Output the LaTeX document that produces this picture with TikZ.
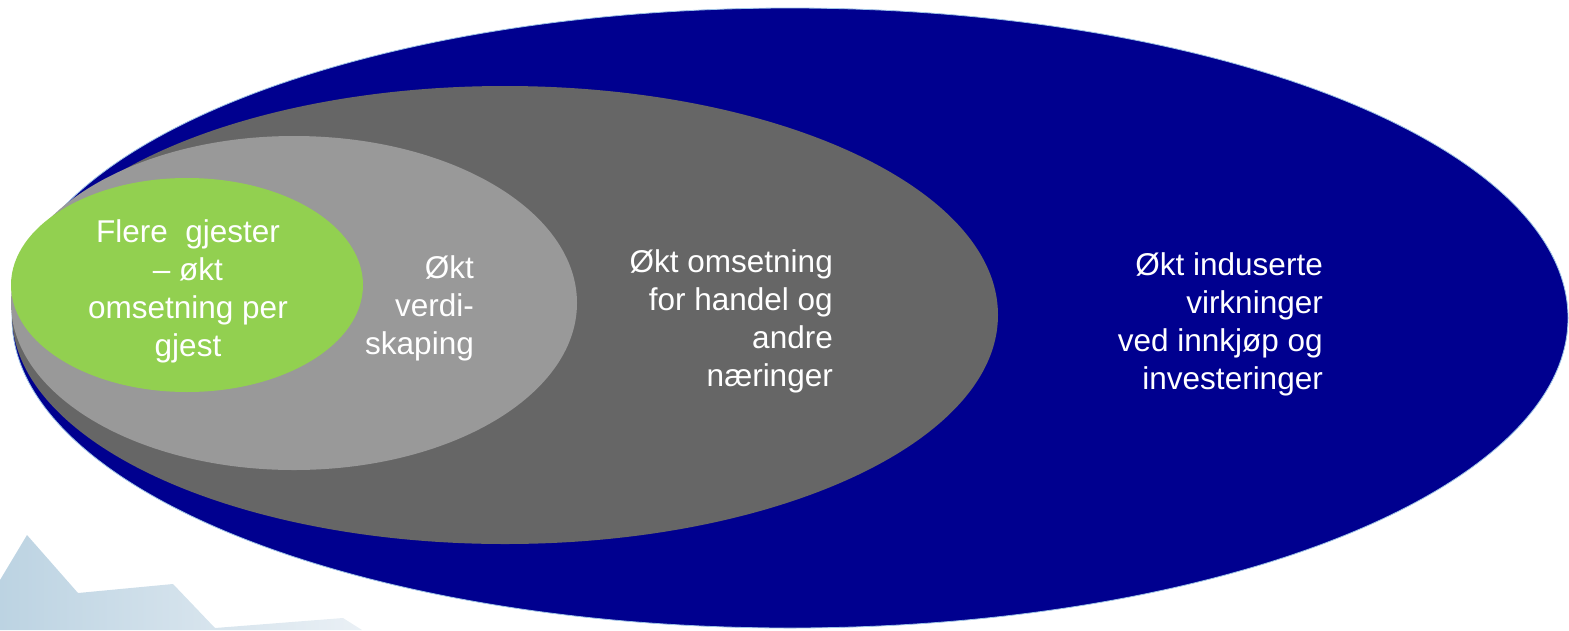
\documentclass[tikz,border=0pt]{standalone}
\usepackage{fontspec}
\setmainfont{Liberation Sans}
\usepackage{tikz}

\definecolor{outerblue}{HTML}{00008F}
\definecolor{edgeblue}{HTML}{9DC3E6}
\definecolor{darkring}{HTML}{666666}
\definecolor{lightring}{HTML}{999999}
\definecolor{innergreen}{HTML}{92D050}
\definecolor{logoleft}{HTML}{BCD3E2}
\definecolor{logoright}{HTML}{EAF0F5}

\tikzset{
    ringtext/.style={text=white, font=\fontsize{31.5}{38}\selectfont, inner sep=0pt},
}

\begin{document}
\begin{tikzpicture}[x=1pt, y=-1pt]
    \useasboundingbox (0,0) rectangle (1569,630);

    % Faded logo in the corner
    \shade[left color=logoleft, right color=logoright]
        (0,580) -- (27,535) -- (78,593) -- (173,584) -- (215,628)
        -- (343,618) -- (362,630) -- (0,630) -- cycle;

    % Ellipses, outer to inner
    \filldraw[fill=outerblue, draw=edgeblue, line width=0.8pt] (790,318) ellipse [x radius=778pt, y radius=310pt];
    \fill[darkring] (505,315) ellipse [x radius=493pt, y radius=229pt];
    \fill[lightring] (294,303) ellipse [x radius=283pt, y radius=167pt];
    \fill[innergreen] (187,285) ellipse [x radius=176pt, y radius=107pt];

    % Texts
    \node[ringtext, align=center] (guests) at (188,291) {Flere\ \ gjester\\– økt\\omsetning per\\gjest};
    \node[ringtext, align=right, anchor=east] (value) at (474,308) {Økt\\verdi-\\skaping};
    \node[ringtext, align=right, anchor=east] (trade) at (833,321) {Økt omsetning\\for handel og\\andre\\næringer};
    \node[ringtext, align=right, anchor=east] (induced) at (1323,324) {Økt induserte\\virkninger\\ved innkjøp og\\investeringer};
\end{tikzpicture}
\end{document}
